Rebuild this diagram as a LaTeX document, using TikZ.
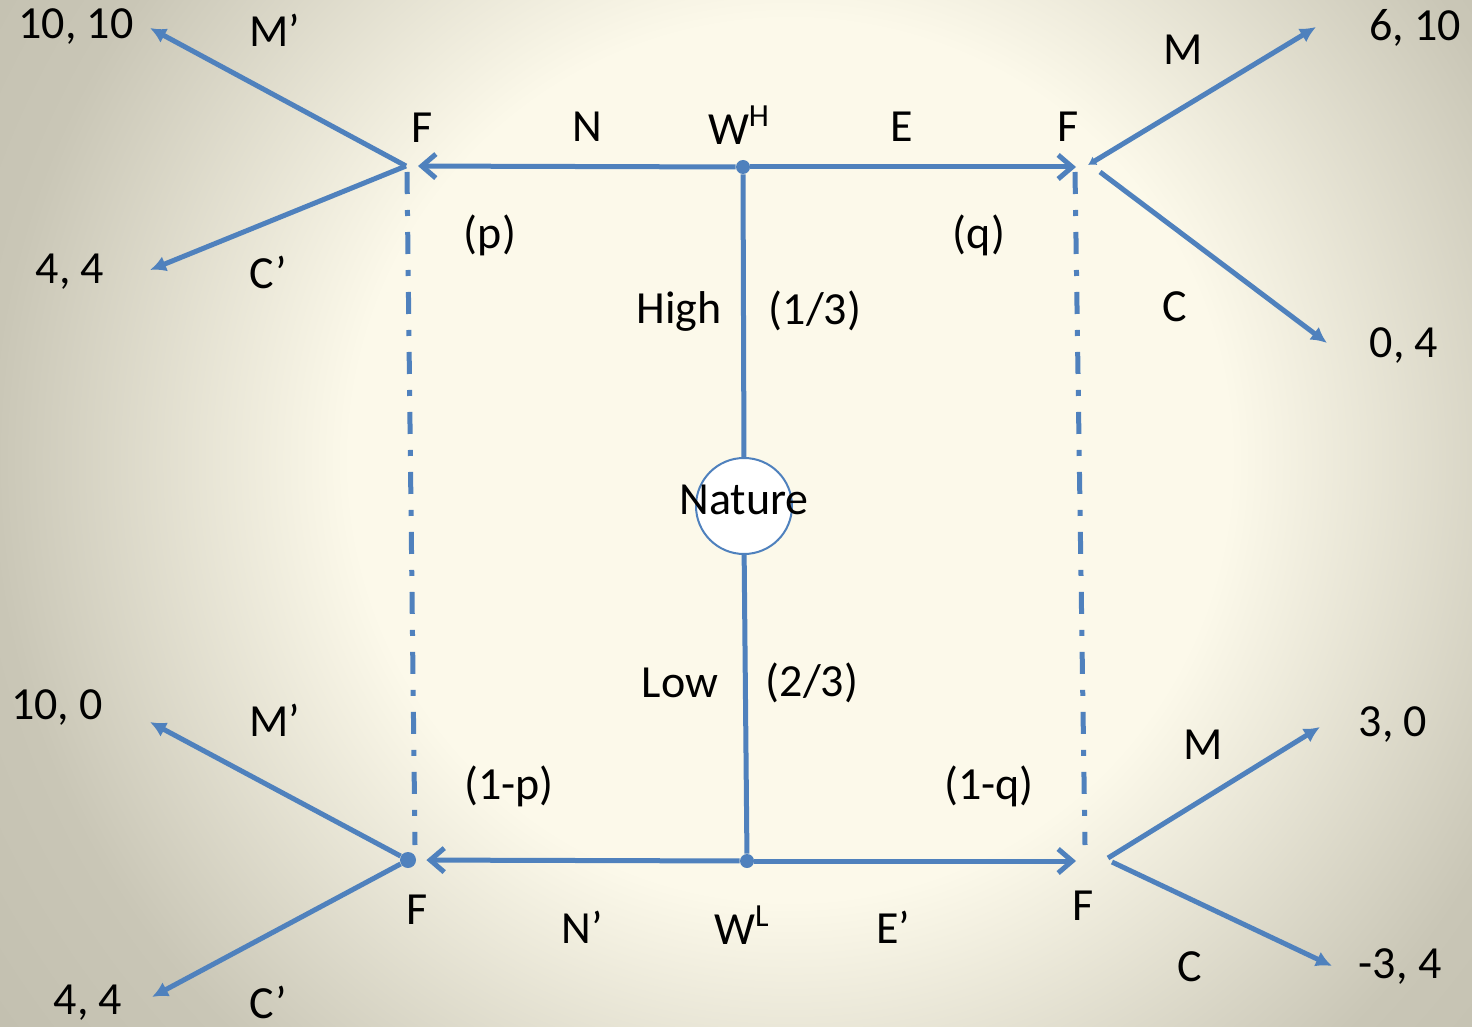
\documentclass[tikz,border=0pt]{standalone}
\usepackage{fontspec}
\setmainfont{Carlito}
\usetikzlibrary{arrows.meta,positioning,calc}
\definecolor{TreeBlue}{HTML}{4F81BD}
\definecolor{BgCream}{HTML}{FCF9EA}
\definecolor{BgGrey}{HTML}{C9C6B6}
\definecolor{BgDark}{HTML}{C2BFAF}
\pgfdeclareradialshading{bgglow}{\pgfpoint{0bp}{0bp}}{color(0bp)=(BgCream); color(11bp)=(BgCream); color(20bp)=(BgGrey); color(25bp)=(BgDark); color(50bp)=(BgDark)}
\tikzset{lbl/.style={font=\fontsize{23}{28}\selectfont,inner sep=0pt},
  tline/.style={TreeBlue,line width=2.5pt},
  move/.style={tline,-{Straight Barb[length=7pt,width=12pt]}},
  branch/.style={tline,-{Latex[length=8pt,width=8pt]}},
  infoset/.style={tline,dash pattern=on 11pt off 8pt on 3pt off 8pt},
  dot/.style={circle,fill=TreeBlue,inner sep=0pt,minimum size=7pt},
  naturebox/.style={circle,draw=TreeBlue,line width=1pt,fill=white,minimum size=48pt,inner sep=0pt}}

\begin{document}
\begin{tikzpicture}[x=0.5pt,y=-0.5pt]
\useasboundingbox (0,0) rectangle (1472,1027);
\begin{scope}
\clip (0,0) rectangle (1472,1027);
\fill[BgDark] (0,0) rectangle (1472,1027);
\shade[shading=bgglow] (790,460) circle (1000);
\end{scope}
% decision points
\coordinate (FHL) at (406,166); \coordinate (FLL) at (408,860);
\coordinate (FHR) at (1076,167); \coordinate (FLR) at (1076,861);
\node[dot] (WH) at (743,167) {};
\node[dot] (WL) at (747,861) {};
\node[dot,minimum size=8pt] (FLLdot) at (FLL) {};
% arrow ends
\coordinate (tHLm) at (150,28); \coordinate (tHLc) at (150,270);
\coordinate (tHRm) at (1316,27); \coordinate (tHRc) at (1327,343);
\coordinate (tLLm) at (150,722); \coordinate (tLLc) at (152,997);
\coordinate (tLRm) at (1320,727); \coordinate (tLRc) at (1332,966);
% nature
\draw[tline] (WH) -- (744,470);
\draw[tline] (744,540) -- (WL);
\node[naturebox,label={[lbl,yshift=3pt]center:Nature}] (nat) at (744,506) {};
% worker moves
\draw[move,shorten >=6pt] (WH) -- (FHL);
\draw[move] (WH) -- (FHR);
\draw[move,shorten >=5pt] (WL) -- (FLLdot);
\draw[move] (WL) -- (FLR);
% information sets
\draw[infoset] ($(FHL)+(1,6)$) -- ($(FLL)+(7,-15)$);
\draw[infoset] ($(FHR)+(-1,5)$) -- ($(FLR)+(9,-16)$);
% firm moves
\draw[branch] (FHL) -- (tHLm); \draw[branch] (FHL) -- (tHLc);
\draw[tline,{Latex[length=4pt,width=5pt]}-{Latex[length=8pt,width=8pt]}] ($(FHR)+(12,-2)$) -- (tHRm);
\draw[branch] ($(FHR)+(24,5)$) -- (tHRc);
\draw[branch] (FLLdot) -- (tLLm); \draw[branch] (FLLdot) -- (tLLc);
\draw[branch] ($(FLR)+(32,-3)$) -- (tLRm); \draw[branch] ($(FLR)+(36,1)$) -- (tLRc);
% labels
\node[lbl] (pay1) at (76,27) {10, 10};
\node[lbl] (mHL) at (275,30) {M’};
\node[lbl] (fHL) at (422,128) {F};
\node[lbl] (nH) at (587,127) {N};
\node[lbl] (wH) at (739,125) {W\textsuperscript{H}};
\node[lbl] (eH) at (902,127) {E};
\node[lbl] (fHR) at (1068,127) {F};
\node[lbl] (mHR) at (1183,50) {M};
\node[lbl] (pay2) at (1415,28) {6, 10};
\node[lbl] (pp) at (490,235) {(p)};
\node[lbl] (qq) at (979,235) {(q)};
\node[lbl] (cHL) at (268,272) {C’};
\node[lbl] (pay3) at (70,272) {4, 4};
\node[lbl] (cHR) at (1175,307) {C};
\node[lbl] (pay4) at (1404,346) {0, 4};
\node[lbl] (high) at (679,311) {High};
\node[lbl] (phigh) at (815,311) {(1/3)};
\node[lbl] (low) at (680,683) {Low};
\node[lbl] (plow) at (812,683) {(2/3)};
\node[lbl] (pay5) at (57,708) {10, 0};
\node[lbl] (mLL) at (275,720) {M’};
\node[lbl] (pay6) at (1393,725) {3, 0};
\node[lbl] (mLR) at (1203,745) {M};
\node[lbl] (p1) at (509,786) {(1-p)};
\node[lbl] (q1) at (989,786) {(1-q)};
\node[lbl] (fLL) at (417,910) {F};
\node[lbl] (nL) at (582,927) {N’};
\node[lbl] (wL) at (742,925) {W\textsuperscript{L}};
\node[lbl] (eL) at (893,927) {E’};
\node[lbl] (fLR) at (1083,906) {F};
\node[lbl] (pay7) at (88,1003) {4, 4};
\node[lbl] (cLL) at (268,1002) {C’};
\node[lbl] (cLR) at (1190,967) {C};
\node[lbl] (pay8) at (1400,967) {-3, 4};
\end{tikzpicture}
\end{document}
